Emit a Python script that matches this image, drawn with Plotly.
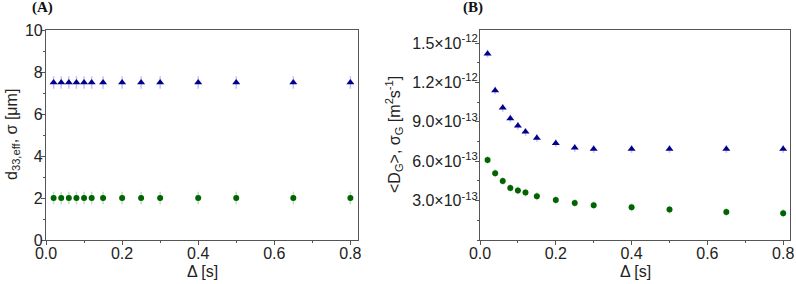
import plotly.graph_objects as go

# ---- data ----
delta = [0.02, 0.04, 0.06, 0.08, 0.10, 0.12, 0.15, 0.2, 0.25, 0.3, 0.4, 0.5, 0.65, 0.8]

# Panel A
d33_eff = [7.5, 7.5, 7.5, 7.5, 7.5, 7.5, 7.5, 7.5, 7.5, 7.5, 7.5, 7.5, 7.5, 7.5]
d33_err = [0.3] * 14
sigma_a = [2.0, 2.0, 2.0, 2.0, 2.0, 2.0, 2.0, 2.0, 2.0, 2.0, 2.0, 2.0, 2.0, 2.0]
sigma_a_err = [0.3] * 14

# Panel B
D_G = [1.42e-12, 1.14e-12, 1.007e-12, 0.926e-12, 0.870e-12, 0.824e-12, 0.778e-12,
       0.738e-12, 0.702e-12, 0.694e-12, 0.694e-12, 0.694e-12, 0.694e-12, 0.694e-12]
D_G_err = [0.03e-12] * 14
sigma_G = [0.610e-12, 0.509e-12, 0.450e-12, 0.397e-12, 0.377e-12, 0.362e-12, 0.333e-12,
           0.305e-12, 0.282e-12, 0.265e-12, 0.249e-12, 0.232e-12, 0.214e-12, 0.204e-12]
sigma_G_err = [0.03e-12] * 14

x_ticks = [0.0, 0.2, 0.4, 0.6, 0.8]
x_ticktext = ["0.0", "0.2", "0.4", "0.6", "0.8"]
ya_ticks = [0, 2, 4, 6, 8, 10]
yb_ticks = [3.0e-13, 6.0e-13, 9.0e-13, 1.2e-12, 1.5e-12]
yb_ticktext = ["3.0×10<sup>-13</sup>", "6.0×10<sup>-13</sup>", "9.0×10<sup>-13</sup>",
               "1.2×10<sup>-12</sup>", "1.5×10<sup>-12</sup>"]

BLUE = "#00008B"
GREEN = "#006400"
BLUE_ERR = "rgba(120,120,230,0.45)"
GREEN_ERR = "rgba(110,180,110,0.45)"
FONT = "Liberation Sans"

fig = go.Figure()

def add(x, y, err, color, ecolor, symbol, size, xa, ya):
    fig.add_trace(go.Scatter(
        x=x, y=y, mode="markers", xaxis=xa, yaxis=ya,
        marker=dict(symbol=symbol, color=color, size=size, line=dict(width=0)),
        error_y=dict(type="data", array=err, visible=True, color=ecolor,
                     thickness=1.5, width=0),
        showlegend=False))

add(delta, d33_eff, d33_err, BLUE, BLUE_ERR, "triangle-up", 7, "x", "y")
add(delta, sigma_a, sigma_a_err, GREEN, GREEN_ERR, "circle", 6, "x", "y")
add(delta, D_G, D_G_err, BLUE, BLUE_ERR, "triangle-up", 7, "x2", "y2")
add(delta, sigma_G, sigma_G_err, GREEN, GREEN_ERR, "circle", 6, "x2", "y2")

W, H = 796, 284
top_px, bot_px = 30, 240
ydom = [(H - bot_px) / H, (H - top_px) / H]

axis_common = dict(showline=True, linecolor="#555", linewidth=1.2, mirror=True,
                   ticks="outside", ticklen=4, tickcolor="#555", showgrid=False,
                   zeroline=False, tickfont=dict(family=FONT, size=16, color="#222"),
                   ticklabeloverflow="allow", automargin=False,
                   minor=dict(ticks="outside", ticklen=2, tickcolor="#555"))

fig.update_layout(
    width=W, height=H, margin=dict(l=0, r=0, t=0, b=0, autoexpand=False),
    paper_bgcolor="white", plot_bgcolor="white",
    font=dict(family=FONT, color="#222"),
    xaxis=dict(domain=[46 / W, 358 / W], range=[0, 0.82], tickvals=x_ticks,
               ticktext=x_ticktext, anchor="y", ticklabelstandoff=-5, **axis_common),
    yaxis=dict(domain=ydom, range=[0, 10], tickvals=ya_ticks, anchor="x",
               ticklabelstandoff=-5, **axis_common),
    xaxis2=dict(domain=[480 / W, 790 / W], range=[0, 0.818], tickvals=x_ticks,
                ticktext=x_ticktext, anchor="y2", ticklabelstandoff=-5, **axis_common),
    yaxis2=dict(domain=ydom, range=[0, 1.6e-12], tickvals=yb_ticks,
                ticktext=yb_ticktext, anchor="x2", ticklabelstandoff=-6, **axis_common),
)
fig.update_xaxes(minor=dict(dtick=0.1, tick0=0))
fig.update_layout(yaxis_minor=dict(dtick=1, tick0=0),
                  yaxis2_minor=dict(dtick=1.5e-13, tick0=1.5e-13))

ann_font = dict(family=FONT, size=16, color="#222")
common_ann = dict(xref="paper", yref="paper", showarrow=False,
                  xanchor="center", yanchor="middle")
fig.add_annotation(text="Δ [s]", x=(46 + 358) / 2 / W, y=(H - 271) / H,
                   font=ann_font, **common_ann)
fig.add_annotation(text="Δ [s]", x=(480 + 790) / 2 / W, y=(H - 271) / H,
                   font=ann_font, **common_ann)
fig.add_annotation(text="d<sub>33,eff</sub>, σ [μm]", x=12 / W, y=(H - 135) / H,
                   textangle=-90, font=ann_font, **common_ann)
fig.add_annotation(text="<D<sub>G</sub>>, σ<sub>G</sub> [m<sup>2</sup>s<sup>-1</sup>]",
                   x=394 / W, y=(H - 135) / H, textangle=-90, font=ann_font,
                   **common_ann)
lab_font = dict(family="Liberation Serif", size=15, color="#111")
fig.add_annotation(text="<b>(A)</b>", x=42 / W, y=(H - 8) / H, font=lab_font,
                   **common_ann)
fig.add_annotation(text="<b>(B)</b>", x=473 / W, y=(H - 8) / H, font=lab_font,
                   **common_ann)

fig.write_html("out.html", config={"displayModeBar": False},
               post_script="document.body.style.margin='0';document.body.style.overflow='hidden';")
